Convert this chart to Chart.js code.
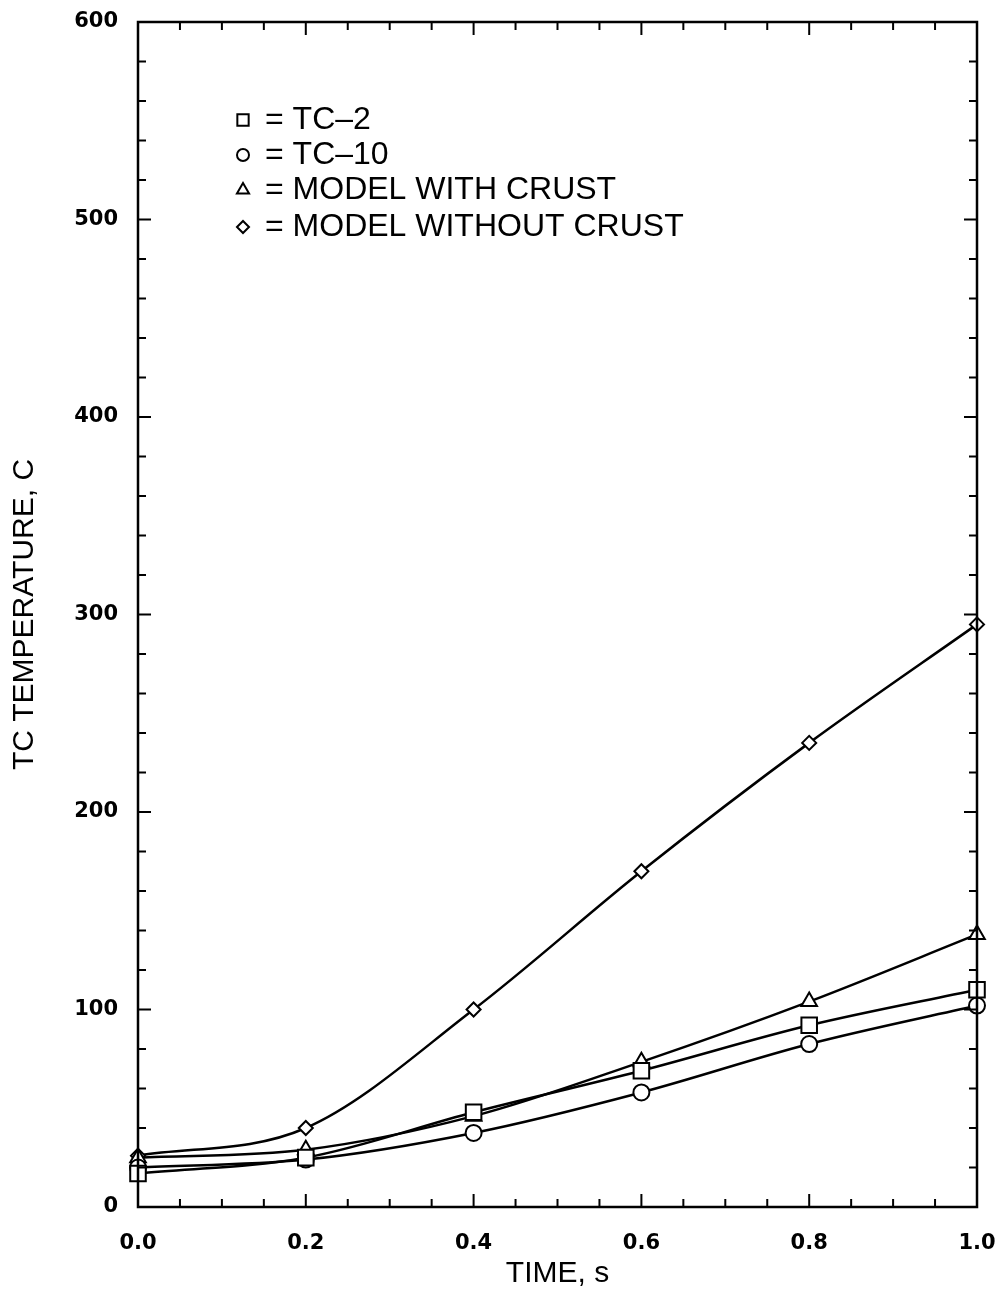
<!DOCTYPE html>
<html>
<head>
<meta charset="utf-8">
<script src="https://cdn.jsdelivr.net/npm/chart.js@4"></script>
<style>
  body { margin: 0; background: #fff; }
</style>
</head>
<body>
<canvas id="chartTemp" width="1006" height="1297"></canvas>
<script>
// values
const times = [0, 0.2, 0.4, 0.6, 0.8, 1.0]
const tc2 = [17, 25, 48, 69, 92, 110]
const tc10 = [20, 24, 37.5, 58, 82.5, 102]
const modelWithCrust = [25, 29, 46, 73.5, 104, 138]
const modelWithoutCrust = [26, 40, 100, 170, 235, 295]

const xTickValues = [0, 0.2, 0.4, 0.6, 0.8, 1.0]
const yTickValues = [0, 100, 200, 300, 400, 500, 600]

const legendLabels = ['TC\u20132', 'TC\u201310', 'MODEL WITH CRUST', 'MODEL WITHOUT CRUST']

const toPoints = (ys) => times.map((t, i) => ({ x: t, y: ys[i] }))

const series = (label, ys, style, radius) => ({
    label: label,
    data: toPoints(ys),
    borderColor: '#000',
    borderWidth: 2.5,
    pointStyle: style,
    pointRadius: radius,
    pointBorderWidth: 2,
    pointBackgroundColor: '#fff',
    pointBorderColor: '#000',
    cubicInterpolationMode: 'monotone',
    clip: false
})

// inward ticks on all four sides + frame
const boxTicks = {
    id: 'boxTicks',
    afterDatasetsDraw(chart) {
        const { ctx, chartArea: a, scales: { x, y } } = chart
        ctx.save()
        ctx.strokeStyle = '#000'
        ctx.lineWidth = 2.5
        ctx.strokeRect(a.left, a.top, a.right - a.left, a.bottom - a.top)
        ctx.lineWidth = 2
        ctx.beginPath()
        for (let v = 0; v <= 1.0001; v += 0.05) {
            const px = x.getPixelForValue(v)
            const major = Math.abs(v / 0.2 - Math.round(v / 0.2)) < 1e-6
            const len = major ? 13 : 8
            ctx.moveTo(px, a.bottom); ctx.lineTo(px, a.bottom - len)
            ctx.moveTo(px, a.top); ctx.lineTo(px, a.top + len)
        }
        for (let v = 0; v <= 600; v += 20) {
            const py = y.getPixelForValue(v)
            const len = v % 100 === 0 ? 13 : 8
            ctx.moveTo(a.left, py); ctx.lineTo(a.left + len, py)
            ctx.moveTo(a.right, py); ctx.lineTo(a.right - len, py)
        }
        ctx.stroke()
        ctx.restore()
    }
}

// legend block in the upper left, like the original
const symbolLegend = {
    id: 'symbolLegend',
    afterDraw(chart) {
        const ctx = chart.ctx
        const styles = [['rect', 8], ['circle', 6], ['triangle', 7], ['rectRot', 6]]
        const rows = [120, 155, 190, 227]
        ctx.save()
        ctx.font = '32px "Liberation Sans", Arial, sans-serif'
        ctx.textBaseline = 'middle'
        rows.forEach((yy, i) => {
            ctx.fillStyle = '#fff'
            ctx.strokeStyle = '#000'
            Chart.helpers.drawPoint(ctx, {
                pointStyle: styles[i][0], radius: styles[i][1], borderWidth: 2, rotation: 0
            }, 243, yy)
            ctx.fillStyle = '#000'
            ctx.fillText('= ' + legendLabels[i], 265, yy)
        })
        ctx.restore()
    }
}

const ctx = document.getElementById('chartTemp')
new Chart(ctx, {
    type: 'line',
    data: {
        datasets: [
            series('TC-2', tc2, 'rect', 11),
            series('TC-10', tc10, 'circle', 8),
            series('MODEL WITH CRUST', modelWithCrust, 'triangle', 9),
            series('MODEL WITHOUT CRUST', modelWithoutCrust, 'rectRot', 7)
        ]
    },
    options: {
        responsive: false,
        animation: false,
        layout: { padding: { top: 22, right: 29, left: 0, bottom: 0 } },
        plugins: {
            legend: { display: false },
            tooltip: { enabled: false }
        },
        scales: {
            x: {
                type: 'linear',
                min: 0,
                max: 1.0,
                afterBuildTicks: (s) => { s.ticks = xTickValues.map(v => ({ value: v })) },
                afterFit: (s) => { s.height = 90; s.paddingLeft = 0; s.paddingRight = 0 },
                grid: { display: false, drawTicks: false },
                border: { display: false },
                ticks: {
                    color: '#000',
                    padding: 24,
                    maxRotation: 0,
                    font: { family: '"DejaVu Sans"', size: 21, weight: 'bold' },
                    callback: (v) => Number(v).toFixed(1)
                },
                title: {
                    display: true,
                    text: 'TIME, s',
                    color: '#000',
                    padding: { top: 0, bottom: 5 },
                    font: { family: '"Liberation Sans"', size: 30 }
                }
            },
            y: {
                min: 0,
                max: 600,
                afterBuildTicks: (s) => { s.ticks = yTickValues.map(v => ({ value: v })) },
                afterFit: (s) => { s.width = 138; s.paddingTop = 0; s.paddingBottom = 0 },
                grid: { display: false, drawTicks: false },
                border: { display: false },
                ticks: {
                    color: '#000',
                    padding: 20,
                    font: { family: '"DejaVu Sans"', size: 21, weight: 'bold' }
                },
                title: {
                    display: true,
                    text: 'TC TEMPERATURE, C',
                    color: '#000',
                    padding: { top: 7, bottom: 0 },
                    font: { family: '"Liberation Sans"', size: 30 }
                }
            }
        }
    },
    plugins: [boxTicks, symbolLegend]
})
</script>
</body>
</html>
